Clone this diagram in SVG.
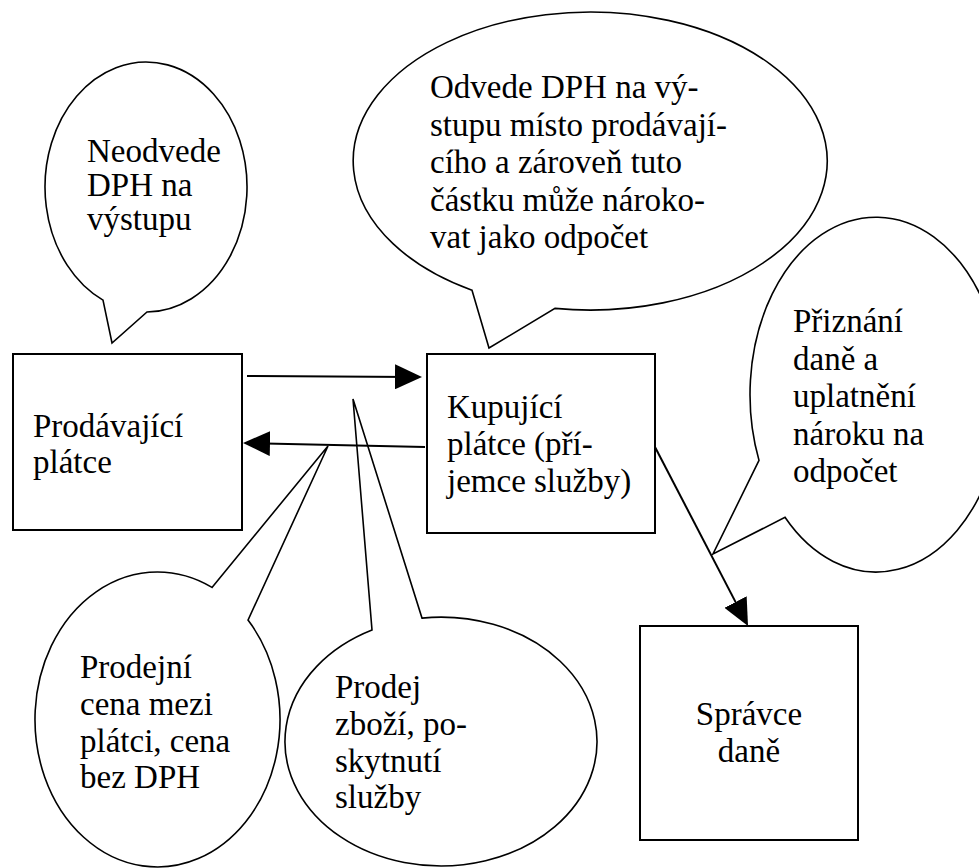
<svg xmlns="http://www.w3.org/2000/svg" width="979" height="868" viewBox="0 0 979 868">
  <style>
    .box { fill: #ffffff; stroke: #000000; stroke-width: 2; }
    .bubble { fill: none; stroke: #000000; stroke-width: 1.6; stroke-linejoin: miter; }
    .conn { stroke: #000000; stroke-width: 2; fill: none; }
    .t { font-family: "Liberation Serif", "Times New Roman", serif; font-size: 33px; fill: #000000; }
    .c { text-anchor: middle; }
  </style>
  <defs>
    <marker id="arrow" markerUnits="userSpaceOnUse" viewBox="0 0 27 25" markerWidth="27" markerHeight="25" refX="17" refY="12.5" orient="auto">
      <path d="M0,0 L27,12.5 L0,25 Z" fill="#000000"/>
    </marker>
  </defs>
  <rect width="979" height="868" fill="#ffffff"/>

  <g id="connectors">
    <line class="conn" x1="247" y1="376" x2="412" y2="376.9" marker-end="url(#arrow)"/>
    <line class="conn" x1="425" y1="447" x2="253" y2="443.2" marker-end="url(#arrow)"/>
    <line class="conn" x1="655" y1="447" x2="743.4" y2="617.1" marker-end="url(#arrow)"/>
  </g>

  <g id="node-prodavajici">
    <rect class="box" x="13" y="354" width="229" height="176"/>
    <text class="t" x="33" y="437">Prodávající</text>
    <text class="t" x="33" y="473">plátce</text>
  </g>

  <g id="node-kupujici">
    <rect class="box" x="427" y="354" width="228" height="179"/>
    <text class="t" x="447" y="418">Kupující</text>
    <text class="t" x="447" y="455">plátce (pří-</text>
    <text class="t" x="447" y="492">jemce služby)</text>
  </g>

  <g id="node-spravce">
    <rect class="box" x="640" y="626" width="218" height="214"/>
    <text class="t c" x="749" y="725">Správce</text>
    <text class="t c" x="749" y="762">daně</text>
  </g>

  <g id="bubble-neodvede">
    <path class="bubble" d="M103,300.1 L112,343 L147,312 A101,125 0 1 0 103,300.1 Z"/>
    <text class="t" x="87" y="162">Neodvede</text>
    <text class="t" x="87" y="196">DPH na</text>
    <text class="t" x="87" y="230">výstupu</text>
  </g>

  <g id="bubble-odvede">
    <path class="bubble" d="M472,290.2 L489,348 L555,308.4 A237,149 0 1 0 472,290.2 Z"/>
    <text class="t" x="430" y="98">Odvede DPH na vý-</text>
    <text class="t" x="430" y="135.5">stupu místo prodávají-</text>
    <text class="t" x="430" y="173">cího a zároveň tuto</text>
    <text class="t" x="430" y="210.5">částku může nároko-</text>
    <text class="t" x="430" y="248">vat jako odpočet</text>
  </g>

  <g id="bubble-priznani">
    <path class="bubble" d="M759,460.4 L713,554 L785,517.3 A126,177.4 0 1 0 759,460.4 Z"/>
    <text class="t" x="793" y="332">Přiznání</text>
    <text class="t" x="793" y="370">daně a</text>
    <text class="t" x="793" y="407">uplatnění</text>
    <text class="t" x="793" y="445">nároku na</text>
    <text class="t" x="793" y="482">odpočet</text>
  </g>

  <g id="bubble-prodejni-cena">
    <path class="bubble" d="M212,587.4 L328,446 L248,620.1 A122.5,147.5 0 1 1 212,587.4 Z"/>
    <text class="t" x="80" y="678">Prodejní</text>
    <text class="t" x="80" y="715">cena mezi</text>
    <text class="t" x="80" y="752">plátci, cena</text>
    <text class="t" x="80" y="788">bez DPH</text>
  </g>

  <g id="bubble-prodej">
    <path class="bubble" d="M372,630 L353,399 L422,618.1 A156,124.4 0 1 1 372,630 Z"/>
    <text class="t" x="335" y="698">Prodej</text>
    <text class="t" x="335" y="735">zboží, po-</text>
    <text class="t" x="335" y="772">skytnutí</text>
    <text class="t" x="335" y="808">služby</text>
  </g>
</svg>
